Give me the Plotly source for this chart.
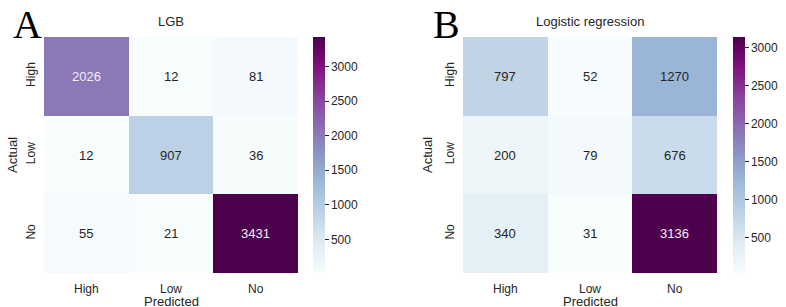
import plotly.graph_objects as go

labels = ["High", "Low", "No"]
lgb_values = [[2026, 12, 81],
              [12, 907, 36],
              [55, 21, 3431]]
lr_values = [[797, 52, 1270],
             [200, 79, 676],
             [340, 31, 3136]]
titles = ["LGB", "Logistic regression"]
panel_letters = ["A", "B"]
cbar_ticks = [500, 1000, 1500, 2000, 2500, 3000]

bupu = ["#f7fcfd", "#e0ecf4", "#bfd3e6", "#9ebcda", "#8c96c6",
        "#8c6bb1", "#88419d", "#810f7c", "#4d004b"]
colorscale = [[i / (len(bupu) - 1), c] for i, c in enumerate(bupu)]

W, H = 786, 307
FONT = "Arial, Liberation Sans, sans-serif"
TXT = "#262626"


def hex2rgb(h):
    h = h.lstrip("#")
    return [int(h[i:i + 2], 16) for i in (0, 2, 4)]


def interp(t):
    t = min(max(t, 0), 1)
    n = len(bupu) - 1
    i = min(int(t * n), n - 1)
    f = t * n - i
    a, b = hex2rgb(bupu[i]), hex2rgb(bupu[i + 1])
    return [a[k] + (b[k] - a[k]) * f for k in range(3)]


def lum(rgb):
    out = []
    for c in rgb:
        c = c / 255
        out.append(c / 12.92 if c <= 0.03928 else ((c + 0.055) / 1.055) ** 2.4)
    return 0.2126 * out[0] + 0.7152 * out[1] + 0.0722 * out[2]


fig = go.Figure()

panels = [
    dict(vals=lgb_values, x0=44, x1=298, cbx=313, cbth=12, letter_x=27, xa="x", ya="y", ytitle_x=12),
    dict(vals=lr_values, x0=463, x1=717, cbx=733, cbth=12, letter_x=446, xa="x2", ya="y2", ytitle_x=427),
]
top, bottom = 37, 273
yd = [1 - bottom / H, 1 - top / H]

annotations = []
for p, (cfg, title, letter) in enumerate(zip(panels, titles, panel_letters)):
    vals = cfg["vals"]
    flat = [v for r in vals for v in r]
    zmin, zmax = min(flat), max(flat)
    fig.add_trace(go.Heatmap(
        z=vals, x=labels, y=labels, zmin=zmin, zmax=zmax,
        colorscale=colorscale, xaxis=cfg["xa"], yaxis=cfg["ya"],
        hoverinfo="skip",
        colorbar=dict(
            x=cfg["cbx"] / W, xanchor="left", xref="paper",
            y=(yd[0] + yd[1]) / 2, yanchor="middle",
            len=bottom - top, lenmode="pixels",
            thickness=cfg["cbth"], thicknessmode="pixels",
            outlinewidth=0, tickvals=cbar_ticks, ticks="outside",
            ticklen=4, tickwidth=1, tickcolor=TXT, xpad=0, ypad=0,
            tickfont=dict(family=FONT, size=12, color=TXT),
        ),
    ))
    for i, row in enumerate(vals):
        for j, v in enumerate(row):
            rgb = interp((v - zmin) / (zmax - zmin))
            col = "#f5ecf7" if lum(rgb) < 0.408 else TXT
            annotations.append(dict(
                x=labels[j], y=labels[i], xref=cfg["xa"], yref=cfg["ya"],
                text=str(v), showarrow=False,
                font=dict(family=FONT, size=13, color=col)))
    xc = (cfg["x0"] + cfg["x1"]) / 2 / W
    annotations.append(dict(x=xc, y=1 - 21 / H, xref="paper", yref="paper",
                            text=title, showarrow=False, xanchor="center", yanchor="middle",
                            font=dict(family=FONT, size=13, color=TXT)))
    annotations.append(dict(x=xc, y=-3 / H, xref="paper", yref="paper",
                            text="Predicted", showarrow=False, xanchor="center", yanchor="bottom",
                            borderpad=0,
                            font=dict(family=FONT, size=13, color=TXT)))
    annotations.append(dict(x=cfg["ytitle_x"] / W, y=(yd[0] + yd[1]) / 2, xref="paper", yref="paper",
                            text="Actual", showarrow=False, xanchor="center", yanchor="middle",
                            textangle=-90,
                            font=dict(family=FONT, size=13, color=TXT)))
    annotations.append(dict(x=cfg["letter_x"] / W, y=1, xref="paper", yref="paper",
                            text=letter, showarrow=False, xanchor="center", yanchor="top",
                            font=dict(family="Liberation Serif, Times New Roman, serif", size=40, color="#000")))
    axis_common = dict(showgrid=False, zeroline=False, showline=False, ticks="", automargin=False)
    fig.layout[("xaxis" if p == 0 else "xaxis2")] = dict(
        domain=[cfg["x0"] / W, cfg["x1"] / W], anchor=cfg["ya"],
        tickfont=dict(family=FONT, size=12, color=TXT), ticklabelstandoff=7, **axis_common)
    fig.layout[("yaxis" if p == 0 else "yaxis2")] = dict(
        domain=yd, anchor=cfg["xa"], autorange="reversed", tickangle=-90,
        tickfont=dict(family=FONT, size=12, color=TXT), ticklabelstandoff=6, **axis_common)

fig.update_layout(
    width=W, height=H, margin=dict(l=0, r=0, t=0, b=0, autoexpand=False),
    paper_bgcolor="white", plot_bgcolor="white",
    annotations=annotations, showlegend=False,
)

fig.write_html("out.html", config={"displayModeBar": False},
               post_script="document.body.style.margin='0px';document.body.style.overflow='hidden';")
